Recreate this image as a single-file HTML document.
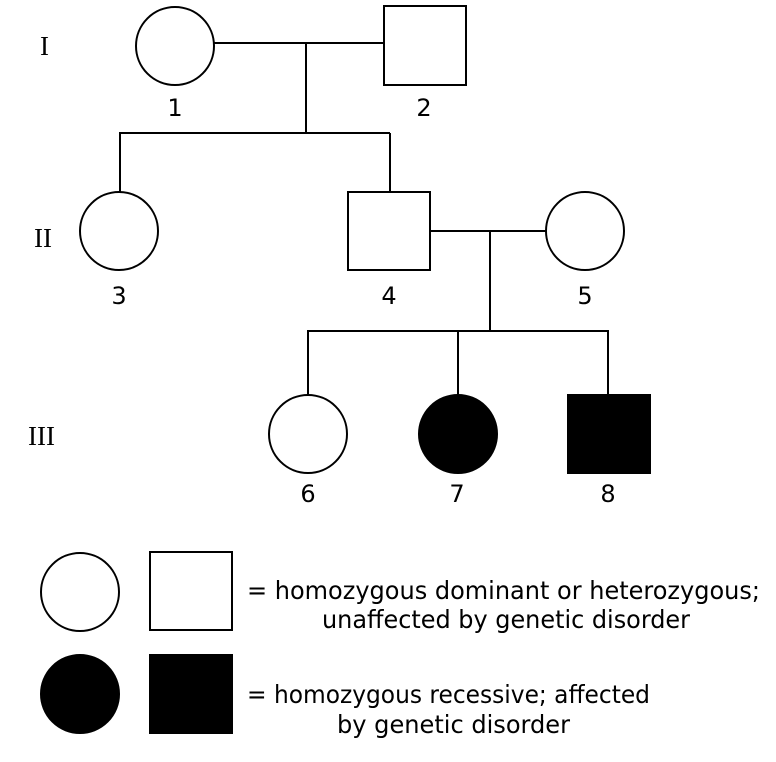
<!DOCTYPE html>
<html><head><style>body{margin:0;background:#fff}svg{display:block}</style></head><body>
<svg width="776" height="762" viewBox="0 0 776 762" xmlns="http://www.w3.org/2000/svg">
<g stroke="#000" stroke-width="2" fill="none">
<line x1="214" y1="43" x2="384" y2="43"/>
<line x1="306" y1="43" x2="306" y2="133"/>
<line x1="119" y1="133" x2="390" y2="133"/>
<line x1="120" y1="133" x2="120" y2="192"/>
<line x1="390" y1="133" x2="390" y2="192"/>
<line x1="430" y1="231" x2="546" y2="231"/>
<line x1="490" y1="231" x2="490" y2="331"/>
<line x1="307" y1="331" x2="609" y2="331"/>
<line x1="308" y1="331" x2="308" y2="395"/>
<line x1="458" y1="331" x2="458" y2="395"/>
<line x1="608" y1="331" x2="608" y2="395"/>
<circle cx="175" cy="46" r="39" fill="#fff"/>
<rect x="384" y="6" width="82" height="79" fill="#fff"/>
<circle cx="119" cy="231" r="39" fill="#fff"/>
<rect x="348" y="192" width="82" height="78" fill="#fff"/>
<circle cx="585" cy="231" r="39" fill="#fff"/>
<circle cx="308" cy="434" r="39" fill="#fff"/>
<circle cx="458" cy="434" r="39" fill="#000"/>
<rect x="568" y="395" width="82" height="78" fill="#000"/>
<circle cx="80" cy="592" r="39" fill="#fff"/>
<rect x="150" y="552" width="82" height="78" fill="#fff"/>
<circle cx="80" cy="694" r="39" fill="#000"/>
<rect x="150" y="655" width="82" height="78" fill="#000"/>
</g>
<g font-family="Liberation Serif, serif" font-size="27" fill="#000">
<text x="40" y="55">I</text>
<text x="34" y="247">II</text>
<text x="28" y="445">III</text>
</g>
<g font-family="DejaVu Sans, Liberation Sans, sans-serif" font-size="24" fill="#000" text-anchor="middle">
<text x="175" y="116">1</text>
<text x="424" y="116">2</text>
<text x="119" y="304">3</text>
<text x="389" y="304">4</text>
<text x="585" y="304">5</text>
<text x="308" y="502">6</text>
<text x="457" y="502">7</text>
<text x="608" y="502">8</text>
</g>
<g font-family="DejaVu Sans, Liberation Sans, sans-serif" font-size="25" fill="#000">
<text x="247" y="599" textLength="513" lengthAdjust="spacingAndGlyphs">= homozygous dominant or heterozygous;</text>
<text x="322" y="628" textLength="368" lengthAdjust="spacingAndGlyphs">unaffected by genetic disorder</text>
<text x="247" y="703" textLength="403" lengthAdjust="spacingAndGlyphs">= homozygous recessive; affected</text>
<text x="337" y="733" textLength="233" lengthAdjust="spacingAndGlyphs">by genetic disorder</text>
</g>
</svg>
</body></html>
